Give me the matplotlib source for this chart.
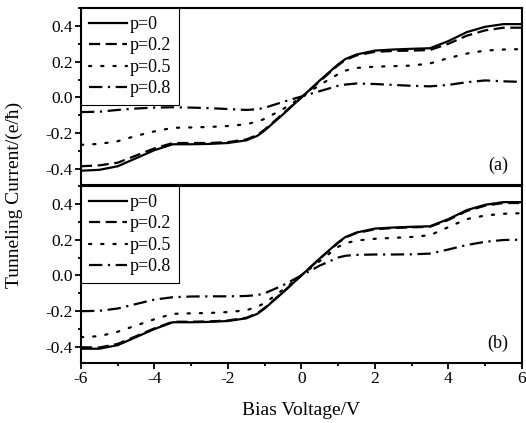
import numpy as np
import matplotlib
matplotlib.use("Agg")
import matplotlib.pyplot as plt
from matplotlib.ticker import MultipleLocator

plt.rcParams["font.family"] = ["Liberation Serif", "DejaVu Serif"]

# bias voltage grid (V)
volt = [-6, -5.5, -5, -4.5, -4, -3.5, -3, -2.5, -2, -1.5, -1.2, -1, -0.5,
        0, 0.5, 1, 1.2, 1.5, 2, 2.5, 3, 3.5, 4, 4.5, 5, 5.5, 6]

labels = ["p=0", "p=0.2", "p=0.5", "p=0.8"]

# panel (a)
a_p0 = [-0.41, -0.405, -0.385, -0.34, -0.295, -0.262, -0.262, -0.26, -0.255, -0.24,
        -0.215, -0.185, -0.095, 0.0, 0.095, 0.185, 0.215, 0.24, 0.262, 0.268, 0.272,
        0.275, 0.315, 0.365, 0.395, 0.41, 0.41]
a_p02 = [-0.385, -0.38, -0.365, -0.325, -0.285, -0.255, -0.255, -0.255, -0.25, -0.235,
         -0.21, -0.18, -0.09, 0.0, 0.09, 0.18, 0.21, 0.235, 0.255, 0.26, 0.262,
         0.265, 0.3, 0.345, 0.375, 0.39, 0.39]
a_p05 = [-0.265, -0.26, -0.245, -0.215, -0.19, -0.17, -0.168, -0.165, -0.16, -0.15,
         -0.135, -0.12, -0.065, 0.0, 0.07, 0.13, 0.15, 0.165, 0.172, 0.175, 0.178,
         0.19, 0.22, 0.245, 0.262, 0.268, 0.27]
a_p08 = [-0.082, -0.08, -0.07, -0.062, -0.057, -0.055, -0.057, -0.06, -0.065, -0.07,
         -0.066, -0.058, -0.025, 0.005, 0.035, 0.065, 0.072, 0.078, 0.075, 0.07, 0.065,
         0.062, 0.07, 0.085, 0.095, 0.09, 0.087]

# panel (b)
b_p0 = [-0.41, -0.41, -0.39, -0.345, -0.3, -0.262, -0.262, -0.26, -0.255, -0.24,
        -0.215, -0.185, -0.095, 0.0, 0.095, 0.185, 0.215, 0.24, 0.262, 0.268, 0.272,
        0.275, 0.315, 0.365, 0.395, 0.41, 0.41]
b_p02 = [-0.402, -0.403, -0.383, -0.34, -0.296, -0.259, -0.259, -0.257, -0.252, -0.237,
         -0.212, -0.182, -0.093, 0.0, 0.093, 0.182, 0.212, 0.237, 0.258, 0.265, 0.269,
         0.272, 0.31, 0.36, 0.39, 0.405, 0.405]
b_p05 = [-0.345, -0.34, -0.315, -0.28, -0.245, -0.215, -0.212, -0.21, -0.205, -0.195,
         -0.175, -0.155, -0.08, 0.0, 0.08, 0.16, 0.18, 0.195, 0.205, 0.21, 0.215,
         0.225, 0.27, 0.315, 0.335, 0.345, 0.348]
b_p08 = [-0.2, -0.198, -0.185, -0.16, -0.135, -0.122, -0.118, -0.117, -0.117, -0.115,
         -0.11, -0.1, -0.055, 0.0, 0.055, 0.1, 0.11, 0.115, 0.117, 0.117, 0.118,
         0.122, 0.145, 0.17, 0.188, 0.198, 0.2]

styles = [
    dict(linestyle="-"),
    dict(dashes=(5, 2.5)),
    dict(dashes=(1, 4.5), dash_capstyle="round"),
    dict(dashes=(6, 2.5, 1, 2.5)),
]

fig = plt.figure(figsize=(5.26, 4.23), dpi=100)
ax1 = fig.add_axes([0.154, 0.5626, 0.838, 0.4184])
ax2 = fig.add_axes([0.154, 0.1418, 0.838, 0.4184])

for ax, series, tag in [(ax1, [a_p0, a_p02, a_p05, a_p08], "(a)"),
                        (ax2, [b_p0, b_p02, b_p05, b_p08], "(b)")]:
    for vals, lab, st in zip(series, labels, styles):
        ax.plot(volt, vals, color="black", linewidth=1.6, label=lab, **st)
    ax.set_xlim(-6, 6)
    ax.set_ylim(-0.49, 0.5)
    ax.set_yticks([-0.4, -0.2, 0.0, 0.2, 0.4])
    ax.set_yticklabels(["-0.4", "-0.2", "0.0", "0.2", "0.4"])
    ax.yaxis.set_minor_locator(MultipleLocator(0.1))
    ax.xaxis.set_major_locator(MultipleLocator(2))
    ax.xaxis.set_minor_locator(MultipleLocator(1))
    ax.tick_params(which="major", direction="out", length=4, width=1.3,
                   labelsize=12.5, pad=2)
    ax.tick_params(which="minor", direction="out", length=2.5, width=1.3)
    ax.tick_params(right=False, top=False, which="both")
    for sp in ax.spines.values():
        sp.set_linewidth(1.5)
    leg = ax.legend(loc="upper left", borderaxespad=0, fancybox=False,
                    edgecolor="black", framealpha=1, fontsize=13,
                    handlelength=2.1, handletextpad=0.15, labelspacing=0.24,
                    borderpad=0.45)
    leg.get_frame().set_linewidth(0.8)
    ax.text(0.97, 0.11, tag, transform=ax.transAxes, ha="right", va="center",
            fontsize=13)

ax1.tick_params(axis="x", which="both", bottom=False, labelbottom=False)
ax2.set_xticks([-6, -4, -2, 0, 2, 4, 6])
ax2.set_xticklabels(["-6", "-4", "-2", "0", "2", "4", "6"])

fig.text(0.572, 0.03, "Bias Voltage/V", ha="center", va="center", fontsize=14)
fig.text(0.027, 0.539, "Tunneling Current/(e/\u0127)", ha="center", va="center",
         rotation=90, fontsize=14)

fig.savefig("out.png", dpi=100)
